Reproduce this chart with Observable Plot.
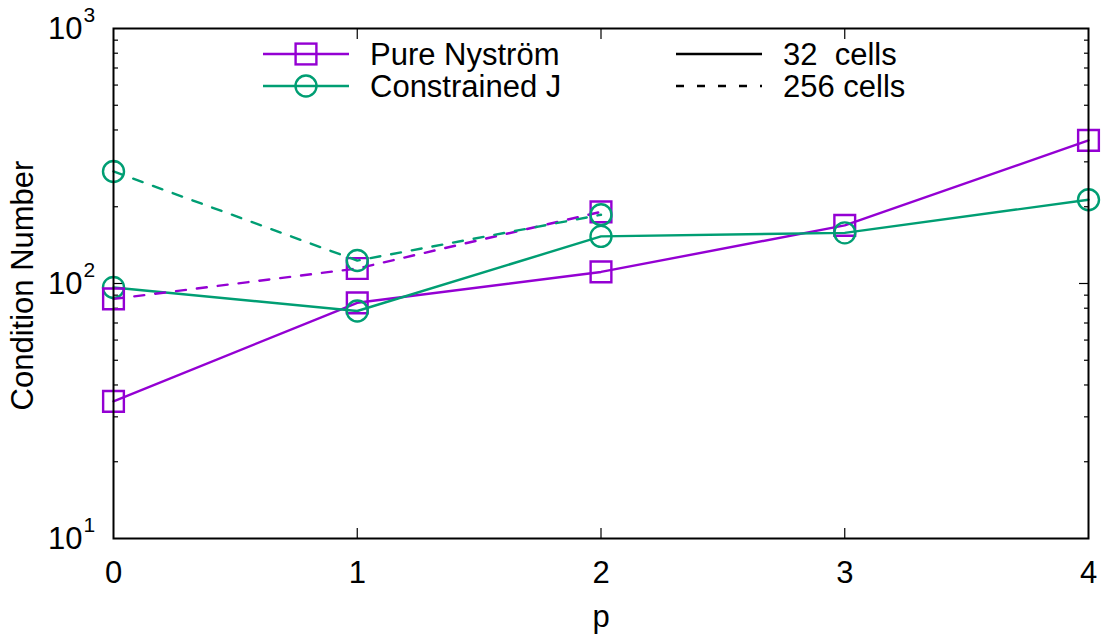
<!DOCTYPE html>
<html><head><meta charset="utf-8">
<script src="https://cdn.jsdelivr.net/npm/d3@7"></script>
<script src="https://cdn.jsdelivr.net/npm/@observablehq/plot@0.6"></script>
<style>body{margin:0;background:#fff}#chart{width:1109px;height:643px}</style>
</head><body><div id="chart"></div>
<script>
// ---- data ----
const pValues = [0, 1, 2, 3, 4];
const pure32 = [34.5, 84, 111, 169, 364];
const constrained32 = [96.5, 78, 153, 158, 213];
const p256 = [0, 1, 2];
const pure256 = [87, 114.5, 191];
const constrained256 = [275, 123, 186];
const xTickValues = [0, 1, 2, 3, 4];
const xInnerTicks = [1, 2, 3];
const yMajor = [10, 100, 1000];
const yBase = ["10", "10", "10"];
const yExponent = ["1", "2", "3"];
const yInnerMajor = [100];
const yMinor = [20, 30, 40, 50, 60, 70, 80, 90, 200, 300, 400, 500, 600, 700, 800, 900];
const seriesNames = ["Pure Nyström", "Constrained J"];
const cellNames = ["32  cells", "256 cells"];

const purple = "#9400d3", green = "#009e73";
const font = "'Liberation Sans', Arial, Helvetica, sans-serif";
const dash = "10,11";
const lw = 2.4;
const fs = 31;

const rows32P = pValues.map((p, i) => ({p, v: pure32[i]}));
const rows32C = pValues.map((p, i) => ({p, v: constrained32[i]}));
const rows256P = p256.map((p, i) => ({p, v: pure256[i]}));
const rows256C = p256.map((p, i) => ({p, v: constrained256[i]}));

const hide = () => "";
const plot = Plot.plot({
  width: 1109, height: 643,
  marginLeft: 113, marginRight: 21, marginTop: 28, marginBottom: 105,
  style: {fontFamily: font, fontSize: fs + "px", background: "white", color: "black", overflow: "visible"},
  x: {domain: [0, 4]},
  y: {type: "log", domain: [10, 1000]},
  marks: [
    // inward ticks
    Plot.axisY(yMinor, {anchor: "left", tickSize: 5, dx: 5, tickFormat: hide, label: null, strokeWidth: 1.2}),
    Plot.axisY(yMinor, {anchor: "right", tickSize: 5, dx: -5, tickFormat: hide, label: null, strokeWidth: 1.2}),
    Plot.axisY(yInnerMajor, {anchor: "left", tickSize: 10, dx: 10, tickFormat: hide, label: null, strokeWidth: 1.2}),
    Plot.axisY(yInnerMajor, {anchor: "right", tickSize: 10, dx: -10, tickFormat: hide, label: null, strokeWidth: 1.2}),
    Plot.axisX(xInnerTicks, {anchor: "bottom", tickSize: 10, dy: -10, tickFormat: hide, label: null, strokeWidth: 1.2}),
    Plot.axisX(xInnerTicks, {anchor: "top", tickSize: 10, dy: 10, tickFormat: hide, label: null, strokeWidth: 1.2}),
    // tick labels
    Plot.text(xTickValues, {x: d => d, frameAnchor: "bottom", lineAnchor: "middle", dy: 35, text: d => String(d), fontSize: fs}),
    Plot.text(yMajor, {y: d => d, frameAnchor: "left", lineAnchor: "middle", dx: -31, dy: 1, textAnchor: "end", text: (d, i) => yBase[i], fontSize: fs}),
    Plot.text(yMajor, {y: d => d, frameAnchor: "left", lineAnchor: "middle", dx: -30, dy: -13, textAnchor: "start", text: (d, i) => yExponent[i], fontSize: 21}),
    Plot.text(["Condition Number"], {frameAnchor: "left", lineAnchor: "middle", textAnchor: "middle", dx: -90, dy: 2, rotate: -90, text: d => d, fontSize: fs}),
    Plot.text(["p"], {frameAnchor: "bottom", lineAnchor: "middle", dy: 79, text: d => d, fontSize: fs}),
    // series
    Plot.line(rows32P, {x: "p", y: "v", stroke: purple, strokeWidth: lw}),
    Plot.dot(rows32P, {x: "p", y: "v", symbol: "square", r: 11.7, stroke: purple, strokeWidth: lw, fill: "none"}),
    Plot.line(rows32C, {x: "p", y: "v", stroke: green, strokeWidth: lw}),
    Plot.dot(rows32C, {x: "p", y: "v", symbol: "circle", r: 10.5, stroke: green, strokeWidth: lw, fill: "none"}),
    Plot.line(rows256P, {x: "p", y: "v", stroke: purple, strokeWidth: lw, strokeDasharray: dash}),
    Plot.dot(rows256P, {x: "p", y: "v", symbol: "square", r: 11.7, stroke: purple, strokeWidth: lw, fill: "none"}),
    Plot.line(rows256C, {x: "p", y: "v", stroke: green, strokeWidth: lw, strokeDasharray: dash}),
    Plot.dot(rows256C, {x: "p", y: "v", symbol: "circle", r: 10.5, stroke: green, strokeWidth: lw, fill: "none"}),
    Plot.frame({stroke: "black", strokeWidth: 2})
  ]
});

// legend inside the frame
const svg = d3.select(plot);
const lg = svg.append("g").attr("font-family", font).attr("font-size", fs).attr("fill", "black").attr("text-anchor", "start");
const legendRows = [
  {name: seriesNames[0], color: purple, sym: "square", y: 54},
  {name: seriesNames[1], color: green, sym: "circle", y: 86}
];
legendRows.forEach(r => {
  lg.append("line").attr("x1", 263).attr("x2", 349).attr("y1", r.y).attr("y2", r.y)
    .attr("stroke", r.color).attr("stroke-width", lw);
  if (r.sym === "square") {
    lg.append("rect").attr("x", 306 - 10.4).attr("y", r.y - 10.4).attr("width", 20.8).attr("height", 20.8)
      .attr("fill", "none").attr("stroke", r.color).attr("stroke-width", lw);
  } else {
    lg.append("circle").attr("cx", 306).attr("cy", r.y).attr("r", 10.5)
      .attr("fill", "none").attr("stroke", r.color).attr("stroke-width", lw);
  }
  lg.append("text").attr("x", 370).attr("y", r.y).attr("dy", "0.35em").text(r.name);
});
const cellRows = [{name: cellNames[0], dashed: false, y: 54}, {name: cellNames[1], dashed: true, y: 86}];
cellRows.forEach(r => {
  const l = lg.append("line").attr("x1", 676).attr("x2", 762).attr("y1", r.y).attr("y2", r.y)
    .attr("stroke", "black").attr("stroke-width", lw);
  if (r.dashed) l.attr("stroke-dasharray", "8,13");
  lg.append("text").attr("x", 783).attr("y", r.y).attr("dy", "0.35em")
    .style("white-space", "pre").text(r.name);
});

document.getElementById("chart").appendChild(plot);
</script>
</body></html>
